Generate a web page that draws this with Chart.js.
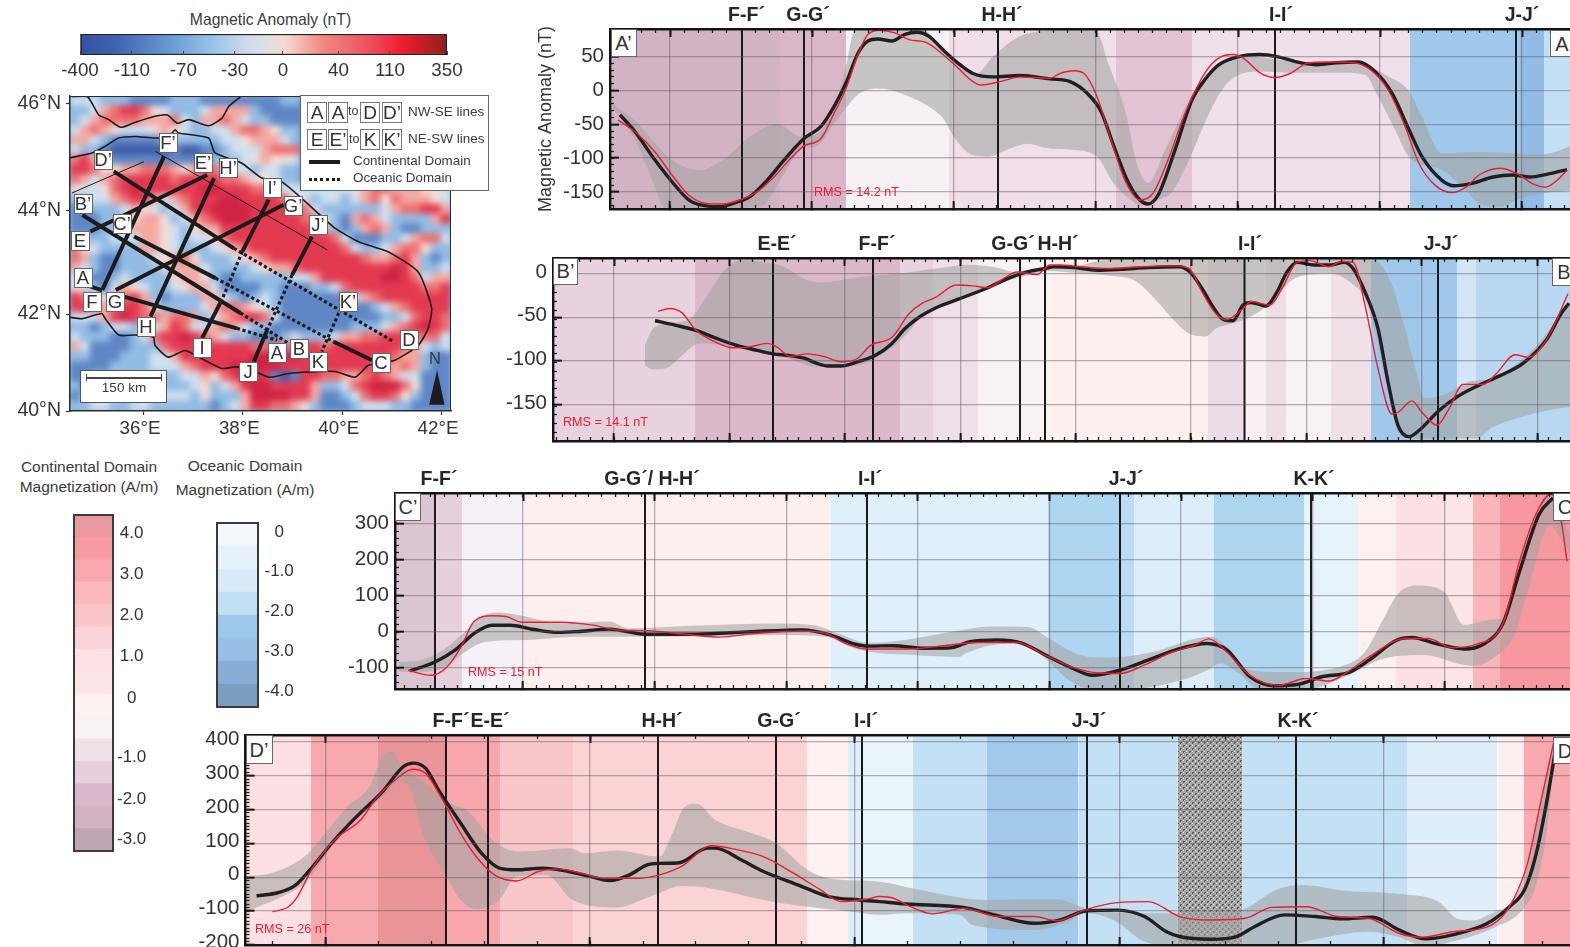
<!DOCTYPE html>
<html><head><meta charset="utf-8">
<style>
html,body{margin:0;padding:0;background:#fff}
#page{position:relative;width:1570px;height:947px;overflow:hidden;font-family:"Liberation Sans",Arial,sans-serif;color:#3a3a3a}
canvas{position:absolute;display:block}
.t{position:absolute;white-space:nowrap;line-height:1}
.b{position:absolute;background:#fff;border:1px solid #666;box-sizing:border-box;display:flex;align-items:center;justify-content:center;color:#333;line-height:1}
</style>
<script src="https://cdn.jsdelivr.net/npm/chart.js@4"></script>
</head><body><div id="page"></div>
<script>
/* ---------- anomaly profiles: [distance along profile, nT] ---------- */
const aObserved=[[10,-36],[25,-61],[45,-103],[62,-135],[79,-162],[93,-170],[110,-172],[123,-167],[140,-157],[157,-133],[174,-103],[194,-71],[211,-53],[224,-24],[236,11],[248,55],[258,73],[268,76],[282,73],[295,83],[307,86],[319,80],[333,60],[350,38],[363,25],[383,20],[410,22],[440,17],[460,13],[477,-4],[491,-31],[504,-83],[518,-135],[530,-162],[538,-168],[548,-155],[565,-88],[582,-14],[596,18],[609,38],[629,50],[650,53],[667,50],[690,41],[707,38],[727,41],[748,42],[765,28],[782,-4],[799,-58],[812,-98],[832,-133],[844,-141],[863,-137],[883,-128],[903,-125],[920,-128],[937,-124],[957,-117]];
const aModel=[[8,-44],[25,-61],[45,-91],[62,-125],[79,-155],[96,-167],[113,-168],[130,-162],[147,-150],[164,-128],[181,-100],[194,-82],[211,-71],[224,-34],[236,3],[248,53],[258,83],[270,89],[285,85],[299,75],[316,71],[329,58],[346,36],[363,13],[371,8],[390,13],[410,20],[440,18],[450,25],[464,29],[474,25],[487,-9],[501,-73],[515,-133],[530,-162],[543,-152],[558,-103],[575,-34],[596,28],[609,48],[623,53],[633,48],[650,26],[665,19],[680,25],[697,40],[717,42],[744,41],[761,30],[778,1],[795,-53],[809,-108],[825,-140],[842,-151],[856,-143],[869,-125],[890,-115],[907,-123],[924,-139],[935,-143],[947,-133],[957,-118]];
const aUpper=[[2,-19],[28,-49],[45,-78],[62,-103],[89,-118],[113,-103],[140,-68],[167,-50],[191,-68],[208,-63],[224,-24],[236,36],[243,85],[248,93],[280,95],[316,88],[333,60],[350,36],[365,23],[383,50],[407,78],[440,89],[464,90],[486,88],[498,41],[515,-29],[528,-113],[538,-137],[555,-88],[582,-6],[596,21],[609,38],[633,50],[667,46],[690,41],[734,43],[755,38],[778,21],[799,-1],[812,-39],[832,-93],[869,-91],[903,-93],[934,-94],[960,-83]];
const aLower=[[2,-24],[25,-73],[45,-143],[55,-178],[80,-190],[120,-182],[140,-172],[153,-170],[170,-133],[191,-88],[208,-81],[224,-49],[236,-26],[248,-6],[268,3],[282,0],[299,-9],[319,-24],[333,-41],[346,-73],[363,-96],[378,-98],[400,-86],[417,-79],[440,-86],[464,-88],[487,-98],[504,-138],[521,-162],[531,-170],[547,-162],[562,-150],[579,-103],[596,-44],[613,3],[629,23],[650,28],[687,26],[734,26],[755,23],[768,-9],[785,-58],[799,-98],[832,-118],[856,-148],[869,-167],[890,-172],[910,-160],[934,-152],[960,-148]];
const aCrossings=[132,194,388,665,906];
const aCrossLabels=["F-F´","G-G´","H-H´","I-I´","J-J´"];
const aLabelAt=[136.5,198,392,671,912];
const aBandEdges=[0,170,236,339,506,582,800,910,934,960];
const aBandColors=["#d1b3c4","#dab6c9","#f7f0f4","#f0dfe8","#e3c4d4","#f0e0e9","#a0c8ea","#92bce5","#c4e0f4"];

const bObserved=[[102,-54],[122,-59],[143,-65],[163,-74],[183,-82],[204,-88],[220,-92],[237,-94],[251,-97],[264,-103],[275,-106],[288,-106],[305,-101],[322,-94],[339,-80],[352,-63],[366,-50],[383,-39],[406,-29],[433,-17],[454,-6],[474,2],[492,6],[501,8],[521,7],[544,4],[568,5],[595,7],[626,8],[637,2],[649,-17],[661,-40],[671,-53],[680,-54],[690,-36],[698,-33],[713,-37],[724,-21],[734,2],[744,13],[761,10],[778,10],[791,13],[800,6],[812,-21],[825,-63],[835,-124],[845,-174],[856,-187],[866,-180],[886,-157],[906,-140],[926,-128],[947,-117],[970,-103],[994,-75],[1008,-46],[1016,-34]];
const bModel=[[105,-43],[117,-40],[129,-45],[143,-65],[160,-77],[180,-85],[197,-84],[214,-80],[224,-84],[237,-95],[254,-92],[271,-95],[288,-101],[302,-99],[318,-82],[339,-73],[356,-46],[369,-34],[383,-27],[403,-13],[420,-14],[435,-16],[450,-6],[464,2],[484,-1],[497,10],[507,10],[528,8],[555,6],[588,8],[622,9],[636,6],[649,-21],[663,-46],[673,-53],[690,-40],[698,-32],[717,-36],[729,-17],[744,13],[757,15],[776,8],[788,14],[800,13],[812,-36],[825,-109],[839,-161],[845,-159],[859,-146],[869,-159],[884,-174],[896,-155],[910,-127],[930,-127],[943,-115],[962,-93],[975,-96],[994,-75],[1015,-23]];
const bUpper=[[92,-82],[100,-63],[116,-57],[139,-50],[153,-27],[173,6],[187,15],[210,13],[231,8],[251,-6],[268,-10],[305,-4],[345,0],[383,6],[416,10],[440,8],[467,1],[497,7],[521,8],[548,15],[588,17],[656,17],[757,17],[808,17],[825,13],[839,-13],[852,-63],[866,-124],[871,-143],[893,-138],[916,-124],[940,-120],[964,-103],[987,-78],[1008,-46],[1017,-36]];
const bLower=[[92,-105],[100,-110],[116,-107],[129,-94],[146,-80],[170,-82],[204,-90],[231,-96],[264,-107],[288,-107],[312,-103],[335,-88],[356,-67],[366,-52],[406,-31],[433,-17],[454,-8],[474,-2],[497,3],[521,1],[555,-2],[582,-8],[602,-29],[622,-55],[636,-69],[653,-72],[663,-63],[680,-57],[693,-52],[713,-38],[730,-17],[744,-4],[778,0],[801,-13],[812,-29],[822,-67],[835,-136],[845,-182],[856,-189],[923,-189],[940,-176],[967,-165],[994,-157],[1017,-153]];
const bCrossings=[220,320,467,492,691.5,885];
const bCrossLabels=["E-E´","F-F´","G-G´","H-H´","I-I´","J-J´"];
const bLabelAt=[224,324,460,505,697,888];
const bBandEdges=[0,142,347,380,425,500,655,693,713,733,778,818,904,923,1017];
const bBandColors=["#e8d2de","#dbb8ca","#e8d2df","#efdfe8","#f8f2f5","#fcefee","#ecdce5","#f7f1f4","#eedfe7","#f8f2f5","#f0e0e8","#a0c8ea","#d4e6f6","#b8d8f2"];

const cObserved=[[15,-108],[40,-83],[60,-50],[79,-4],[97,19],[115,19],[139,7],[163,-1],[182,1],[214,8],[250,-6],[301,-6],[356,1],[407,6],[435,-8],[458,-32],[474,-39],[498,-38],[529,-45],[555,-44],[575,-27],[602,-22],[626,-30],[654,-69],[678,-101],[697,-120],[725,-106],[753,-78],[780,-50],[812,-32],[832,-50],[855,-124],[879,-149],[903,-145],[927,-124],[954,-112],[974,-78],[1002,-22],[1017,-15],[1041,-32],[1069,-47],[1087,-36],[1108,24],[1124,163],[1144,326],[1158,372]];
const cModel=[[13,-106],[36,-120],[52,-97],[66,-41],[79,29],[97,45],[111,43],[127,27],[166,27],[198,19],[222,6],[253,4],[289,-6],[324,-14],[360,-4],[407,3],[431,-4],[451,-32],[471,-47],[514,-47],[555,-36],[583,-29],[622,-29],[650,-64],[678,-98],[701,-113],[725,-115],[749,-92],[776,-57],[800,-36],[814,-19],[828,-45],[855,-120],[883,-148],[911,-129],[934,-136],[950,-115],[974,-69],[1010,-18],[1033,-18],[1057,-43],[1081,-34],[1108,24],[1124,191],[1140,321],[1156,382],[1166,312],[1172,196]];
const cUpper=[[4,-83],[25,-78],[48,-50],[68,-4],[87,43],[103,54],[123,47],[166,24],[214,29],[234,10],[301,18],[380,24],[419,19],[443,-4],[474,-30],[510,-22],[564,4],[595,15],[634,13],[654,-18],[685,-64],[713,-71],[753,-58],[816,-13],[832,-41],[855,-106],[891,-111],[950,-92],[970,-55],[986,24],[1002,103],[1021,129],[1049,112],[1069,20],[1093,33],[1112,47],[1128,200],[1156,382],[1162,368],[1175,266]];
const cLower=[[4,-110],[25,-110],[48,-101],[68,-59],[91,-27],[131,-22],[182,-13],[262,-13],[380,-8],[431,-13],[455,-41],[474,-55],[518,-64],[564,-69],[571,-59],[598,-36],[626,-32],[650,-73],[674,-134],[693,-157],[733,-159],[792,-129],[812,-106],[826,-87],[844,-115],[863,-157],[911,-160],[950,-124],[990,-73],[1029,-64],[1077,-94],[1100,-69],[1120,-4],[1136,145],[1148,266],[1155,298],[1166,256],[1175,219]];
const cCrossings=[40,250,472,725,916];
const cCrossLabels=["F-F´","G-G´/ H-H´","I-I´","J-J´","K-K´"];
const cLabelAt=[44,257,475,731,919];
const cBandEdges=[0,39,67,128,436,653,725,739,819,909,964,1001,1049,1078,1105,1175];
const cBandColors=["#dcc5d3","#e5d0dc","#f6f1f7","#fcefee","#e0f0fa","#aed6f1","#bcdcf3","#dceefa","#aed5f0","#e7f3fb","#fdf0f0","#fde0e3","#fde4e6","#f9b5ba","#f7989e"];

const dObserved=[[11,-55],[33,-45],[50,-23],[63,17],[89,110],[111,179],[137,253],[158,327],[168,337],[180,322],[193,258],[215,160],[236,71],[254,27],[271,22],[297,27],[323,17],[345,2],[364,-10],[384,7],[401,36],[414,41],[434,43],[462,86],[470,86],[496,51],[518,17],[553,-23],[583,-57],[614,-67],[634,-72],[661,-79],[718,-89],[749,-111],[789,-136],[815,-126],[841,-99],[872,-97],[899,-116],[921,-161],[934,-175],[965,-183],[991,-175],[1009,-146],[1039,-111],[1070,-116],[1097,-123],[1127,-118],[1154,-156],[1180,-182],[1207,-170],[1242,-136],[1264,-87],[1279,-37],[1290,61],[1301,219],[1310,376]];
const dModel=[[27,-102],[43,-87],[52,-57],[67,27],[89,110],[115,169],[132,238],[150,288],[167,319],[180,307],[197,229],[215,130],[232,56],[249,7],[271,-11],[293,17],[314,24],[336,12],[358,-3],[392,-3],[414,7],[436,32],[466,93],[492,81],[518,61],[548,12],[575,-37],[596,-72],[622,-64],[634,-57],[648,-62],[665,-87],[687,-108],[718,-92],[753,-116],[789,-116],[811,-128],[841,-95],[872,-75],[903,-72],[934,-116],[965,-126],[1000,-121],[1026,-89],[1061,-87],[1092,-116],[1123,-121],[1154,-166],[1176,-177],[1207,-161],[1246,-141],[1264,-87],[1282,41],[1295,219],[1308,396]];
const dUpper=[[0,2],[28,14],[59,61],[80,130],[102,209],[124,268],[137,357],[147,371],[156,327],[180,278],[202,224],[223,194],[249,105],[275,76],[323,86],[340,71],[371,79],[414,61],[427,130],[438,204],[451,217],[470,169],[501,135],[531,100],[562,22],[583,-3],[634,-13],[670,-35],[740,-67],[811,-65],[841,-92],[899,-106],[969,-106],[1000,-92],[1031,-37],[1057,-23],[1097,-39],[1163,-52],[1193,-72],[1211,-121],[1227,-128],[1246,-106],[1268,-67],[1282,32],[1295,219],[1310,411]];
const dLower=[[0,-101],[37,-57],[63,-8],[89,101],[141,248],[156,283],[167,248],[176,140],[197,22],[215,-67],[232,-94],[254,-67],[271,2],[301,7],[327,-67],[371,-89],[405,-57],[436,-26],[466,-33],[518,-67],[562,-87],[605,-101],[634,-111],[661,-106],[714,-111],[727,-141],[789,-156],[819,-136],[841,-106],[868,-126],[899,-190],[934,-205],[1031,-205],[1075,-180],[1123,-161],[1154,-177],[1180,-205],[1207,-190],[1251,-146],[1277,-97],[1290,-28],[1301,130],[1310,396]];
const dCrossings=[200.5,242.5,412.5,530.5,616.5,841.5,1050.5];
const dCrossLabels=["F-F´","E-E´","H-H´","G-G´","I-I´","J-J´","K-K´"];
const dLabelAt=[205.5,244.5,416.5,533.5,620.5,843.5,1052.5];
const dBandEdges=[0,65,132.5,200.5,254.5,327.5,561.5,602.5,616.5,667.5,741.5,833,932,997,1161.5,1252,1278,1325];
const dBandColors=["#fde0e3","#f8a9ae","#e99598","#f8a8ad","#f9c7ca","#fbd3d5","#fdf1f1","#e0eef9","#e9f4fb","#c4e0f4","#a2c8ea","#c4e0f4","STIPPLE","#c4e0f4","#e0eefa","#fdeff0","#f8aab0"];

/* ---------- colour scales ---------- */
const anomalyLabels=["-400","-110","-70","-30","0","40","110","350"];
const anomalyTickAt=[0,0.99,1.97,2.95,3.87,4.93,5.91,7];
const anomalyStops=[0,0.1,0.25,0.37,0.46,0.52,0.56,0.66,0.8,0.88,0.97,1];
const anomalyColors=["#3550a0","#3f64b0","#6b9cd6","#9cc5ea","#cfdcec","#e2e0e0","#f7d8d0","#f08a80","#ee4a5a","#ec1c2e","#a82020","#8c1c1c"];
const contCells=["#e99a9e","#f89aa0","#f9a8ae","#fbb9bd","#fbc6ca","#fcd3d7","#fde1e3","#fde6e9","#fdf1f1","#f8f2f5","#efdfe7","#e7cfdc","#d9b6c9","#d2b3c3","#bfa5b3"];
const contLabels=["4.0","3.0","2.0","1.0","0","-1.0","-2.0","-3.0"];
const contTickAt=[14.18,12.36,10.5,8.7,6.8,4.2,2.32,0.5];
const oceanCells=["#f3f8fc","#e6f2fa","#d8eaf8","#c2e0f3","#9dc8ea","#98bfe5","#88aed8","#7a9ebf"];
const oceanLabels=["0","-1.0","-2.0","-3.0","-4.0"];
const oceanTickAt=[7.6,5.88,4.14,2.41,0.7];

/* ---------- map ---------- */
const lonTicks=[36,38,40,42];
const lonLabels=["36°E","38°E","40°E","42°E"];
const latTicks=[40,41.89,43.91,46];
const latLabels=["40°N","42°N","44°N","46°N"];
const heatLevels=[-200,-90,-50,-25,0,25,60,120,220];
const heatColors=["#3f5ca8","#5f87c6","#93bce4","#cfe0ef","#f3dcd6","#f3a9a2","#ec6f70","#e33a52","#cf2445"];
const heatRows=[
"33322211112221111111122","22356776432223555521111","23566665556325565322111","35654333454322335665422","55321111122222233455532","32210000001001123335666","67521111111111222345443","77644556665456633323322","65356777776777766544322",
"43346787777778877766533333334566555443","22335677535677788777764323323564655543","11222354323577888877776632222223566775","11122245542356788877777663215653222257","11122355543245577777777765212565211222","22223335543233467777777777631112235663","64322225543222345677777777763223566422",
"65211222345642223456777777777655675212","53211222235553222234556777777777875223","32112322224554211222223357777778876355","43213543223455311112211122367777777667","76435675212225532123211111113567777777","77756776422223566543211111111123567777","33357876656652356776311111111112236776","22123322357633565322111111112223567876",
"32221123677876532211123222355667776663","53111122267777777766666776777777765323","22111222335777777788888777777777655211","11112222333567778888877777777766565211","11222222222335467887101776655676533111","21222222222234235788777752236788864111","12333223333324222588887751123677642111","22332233222222123577665421112333221111"];
const coastSouth=[[34.5,44.93],[34.96,45.03],[35.23,45.16],[35.5,45.32],[35.83,45.35],[36.23,45.32],[36.5,45.35],[36.64,45.48],[36.7,45.42],[37.31,45.32],[37.44,45.03],[37.98,44.83],[38.38,44.54],[38.78,44.47],[39.59,43.79],[39.86,43.56],[40.33,43.3],[40.93,43.1],[41.53,42.71],[41.8,42],[41.73,41.61],[41.53,41.28],[41.06,40.99],[40.53,40.89],[40.26,40.66],[39.86,40.77],[39.32,40.76],[38.92,40.73],[38.52,40.66],[38.11,40.83],[37.84,40.86],[37.58,40.83],[37.17,41.02],[36.84,41.18],[36.5,41.05],[36.23,41.28],[36.2,41.44],[35.83,41.48],[35.5,41.48],[35.23,41.8],[35.16,41.9],[34.76,41.8],[34.5,41.83]];
const coastNorth=[[34.56,46.13],[34.87,46.13],[35.1,45.77],[35.3,45.68],[35.54,45.53],[35.81,45.62],[36.21,45.74],[36.48,45.77],[36.68,45.61],[36.91,45.68],[37.31,45.56],[37.58,45.71],[37.72,45.94],[37.95,46.12]];
const solidLines=[[[35.4,44.67],[37.82,43.17]],[[35.81,43.4],[37.45,42.59]],[[39.83,41.35],[40.6,40.99]],[[34.77,43.82],[37.95,41.91]],[[34.93,42.43],[35.17,42.35]],[[35.6,42.23],[37.88,41.61]],[[36.41,44.96],[35.17,42.36]],[[34.93,43.5],[37.28,44.6]],[[35.44,42.36],[38.82,44.02]],[[37.42,44.54],[36.14,41.84]],[[38.52,44.12],[37.99,43.11]],[[37.58,42.17],[37.18,41.42]],[[39.39,43.4],[38.99,42.65]],[[38.49,41.58],[38.22,40.96]]];
const dottedLines=[[[37.82,43.17],[41.04,41.35]],[[37.45,42.59],[39.83,41.35]],[[37.95,41.91],[38.92,41.32]],[[37.88,41.61],[38.69,41.38]],[[37.99,43.11],[37.58,42.17]],[[38.99,42.65],[38.49,41.58]],[[39.93,41.91],[39.59,41.16]]];
const thinLines=[[[34.56,44.25],[36.01,44.86]],[[36.24,45.06],[39.7,43.14]]];
const northArrow=[[41.91,40.8],[41.75,40.12],[42.06,40.12],[41.91,40.8]];

/* ---------- helpers ---------- */
Chart.defaults.font.family='"Liberation Sans",Arial,sans-serif';
Chart.defaults.color='#333';
Chart.defaults.animation=false;
const page=document.getElementById('page');
function mkCanvas(l,t,w,h){const c=document.createElement('canvas');c.width=w;c.height=h;c.style.left=l+'px';c.style.top=t+'px';c.style.width=w+'px';c.style.height=h+'px';page.appendChild(c);return c;}
function txt(s,l,cy,size,opt){opt=opt||{};const d=document.createElement('div');d.className='t';d.textContent=s;d.style.fontSize=size+'px';d.style.top=(cy-size/2)+'px';if(opt.center){d.style.left=l+'px';d.style.transform='translateX(-50%)';}else d.style.left=l+'px';if(opt.color)d.style.color=opt.color;page.appendChild(d);return d;}
function box(s,cx,cy,w,h,size,bc){const d=document.createElement('div');d.className='b';d.textContent=s;d.style.cssText+=`left:${cx-w/2}px;top:${cy-h/2}px;width:${w}px;height:${h}px;font-size:${size}px;`+(bc?`border-color:${bc};`:'');page.appendChild(d);return d;}
function rect(l,t,w,h,css){const d=document.createElement('div');d.style.cssText=`position:absolute;left:${l}px;top:${t}px;width:${w}px;height:${h}px;box-sizing:border-box;`+css;page.appendChild(d);return d;}
const pts=a=>a.map(p=>({x:p[0],y:p[1]}));
function stipple(){const c=document.createElement('canvas');c.width=6;c.height=6;const g=c.getContext('2d');g.fillStyle='#a6a6a6';g.fillRect(0,0,6,6);g.fillStyle='#5a5a5a';g.fillRect(0,0,2,1);g.fillRect(0,1,1,1);g.fillRect(3,3,2,1);g.fillRect(3,4,1,1);g.fillStyle='#f2f2f2';g.fillRect(3,0,1,1);g.fillRect(0,3,1,1);return g.createPattern(c,'repeat');}
const GRID='rgba(95,85,95,0.45)';
const INK='#141414';
/* exact axis size, without the label overflow padding the layout would add to the plot area */
function fixSize(s,prop,v){s[prop]=v;s.paddingTop=s.paddingBottom=s.paddingLeft=s.paddingRight=0;}

function profile(cfg){
 const {left,top,width,height,axisW,topH,botH,yMin,yMax,yMajor,yMinor,gridStart,gridStep,tickStep,observed,model,upper,lower,crossings,crossLabels,labelAt,edges,colors,yTitle,labelUp}=cfg;
 const cv=mkCanvas(left-axisW,top-topH,axisW+width,topH+height+botH);
 const ds=[];
 ds.push({data:pts(model),borderColor:'#ed1c2e',borderWidth:1.4,pointRadius:0,cubicInterpolationMode:'monotone',order:1,fill:false});
 ds.push({data:pts(observed),borderColor:'#231f20',borderWidth:3.4,pointRadius:0,cubicInterpolationMode:'monotone',order:2,fill:false});
 crossings.forEach(v=>ds.push({data:[{x:v,y:yMin},{x:v,y:yMax}],borderColor:'#1a1a1a',borderWidth:2,pointRadius:0,order:3,fill:false}));
 ds.push({data:pts(upper),borderWidth:0,pointRadius:0,cubicInterpolationMode:'monotone',fill:'+1',backgroundColor:'rgba(164,164,162,0.58)',order:50});
 ds.push({data:pts(lower),borderWidth:0,pointRadius:0,cubicInterpolationMode:'monotone',fill:false,order:51});
 colors.forEach((c,i)=>ds.push({data:[{x:edges[i],y:yMax},{x:edges[i+1],y:yMax}],borderWidth:0,pointRadius:0,fill:'start',backgroundColor:c==='STIPPLE'?stipple():c,order:100+i}));
 const xr={type:'linear',min:0,max:width,axis:'x'};
 const fixH=h=>(s=>fixSize(s,'height',h));
 const setTicks=f=>(s=>{s.ticks=f();});
 const seq=(start,step)=>()=>{const r=[];for(let v=start;v<=width;v+=step)r.push({value:v});return r;};
 const minorStart=gridStart%tickStep;
 new Chart(cv,{type:'line',data:{datasets:ds},options:{responsive:false,animation:false,
  layout:{autoPadding:false,padding:0},
  plugins:{legend:{display:false},tooltip:{enabled:false}},
  scales:{
   x:{...xr,position:'bottom',weight:1,afterFit:fixH(botH),afterBuildTicks:setTicks(seq(gridStart,gridStep)),ticks:{display:false},
      grid:{z:1,color:GRID,lineWidth:1.3,tickColor:INK,tickWidth:2,tickLength:-8},border:{z:2,width:2.4,color:INK}},
   xMinorB:{...xr,position:'bottom',weight:0,afterFit:fixH(0),afterBuildTicks:setTicks(seq(minorStart,tickStep)),ticks:{display:false},
      grid:{z:1,drawOnChartArea:false,tickColor:'#222',tickWidth:1.3,tickLength:-4},border:{display:false}},
   xTop:{...xr,position:'top',weight:1,afterFit:fixH(topH),afterBuildTicks:setTicks(()=>labelAt.map(v=>({value:v}))),
      ticks:{callback:(v,i)=>crossLabels[i],autoSkip:false,maxRotation:0,minRotation:0,padding:2,color:'#262626',font:{size:19.5,weight:'bold'}},
      grid:{display:true,drawOnChartArea:false,drawTicks:false},border:{z:2,width:2.4,color:INK}},
   xMajT:{...xr,position:'top',weight:0,afterFit:fixH(0),afterBuildTicks:setTicks(seq(gridStart,gridStep)),ticks:{display:false},
      grid:{z:1,drawOnChartArea:false,tickColor:INK,tickWidth:2,tickLength:-8},border:{display:false}},
   xMinT:{...xr,position:'top',weight:-1,afterFit:fixH(0),afterBuildTicks:setTicks(seq(minorStart,tickStep)),ticks:{display:false},
      grid:{z:1,drawOnChartArea:false,tickColor:'#222',tickWidth:1.3,tickLength:-4},border:{display:false}},
   y:{type:'linear',axis:'y',position:'left',weight:1,min:yMin,max:yMax,afterFit:s=>fixSize(s,'width',axisW),
      title:yTitle?{display:true,text:yTitle,font:{size:18},color:'#333',padding:0}:{display:false},
      ticks:{stepSize:yMajor,includeBounds:false,callback:v=>String(v),padding:15,labelOffset:-(labelUp||0),color:'#333',font:{size:20.5}},
      grid:{z:1,color:GRID,lineWidth:1.3,tickColor:INK,tickWidth:2,tickLength:-9},border:{z:2,width:2.4,color:INK}},
   yMinor:{type:'linear',axis:'y',position:'left',weight:0,min:yMin,max:yMax,afterFit:s=>fixSize(s,'width',0),
      ticks:{stepSize:yMinor,includeBounds:false,display:false},
      grid:{z:1,drawOnChartArea:false,tickColor:'#222',tickWidth:1.3,tickLength:-4},border:{display:false}}
  }}});
}

/* ---------- profile panels ---------- */
profile({left:610,top:29,width:960,height:180,axisW:75,topH:29,botH:3,yMin:-175.3,yMax:90.8,yMajor:50,yMinor:10,gridStart:60,gridStep:142,tickStep:14.2,observed:aObserved,model:aModel,upper:aUpper,lower:aLower,crossings:aCrossings,crossLabels:aCrossLabels,labelAt:aLabelAt,edges:aBandEdges,colors:aBandColors,yTitle:'Magnetic Anomaly (nT)',labelUp:0});
profile({left:553,top:258,width:1017,height:183,axisW:53,topH:29,botH:3,yMin:-192,yMax:18,yMajor:50,yMinor:10,gridStart:61,gridStep:115.4,tickStep:11.54,observed:bObserved,model:bModel,upper:bUpper,lower:bLower,crossings:bCrossings,crossLabels:bCrossLabels,labelAt:bLabelAt,edges:bBandEdges,colors:bBandColors,labelUp:1.5});
profile({left:395,top:493,width:1175,height:196,axisW:55,topH:29,botH:3,yMin:-158,yMax:385.6,yMajor:100,yMinor:20,gridStart:128,gridStep:131.6,tickStep:13.16,observed:cObserved,model:cModel,upper:cUpper,lower:cLower,crossings:cCrossings,crossLabels:cCrossLabels,labelAt:cLabelAt,edges:cBandEdges,colors:cBandColors,labelUp:1});
profile({left:245.5,top:735,width:1324.5,height:210,axisW:55.5,topH:29,botH:2,yMin:-200,yMax:420,yMajor:100,yMinor:10,gridStart:80,gridStep:264.6,tickStep:52.92,observed:dObserved,model:dModel,upper:dUpper,lower:dLower,crossings:dCrossings,crossLabels:dCrossLabels,labelAt:dLabelAt,edges:dBandEdges,colors:dBandColors,labelUp:2.5});

[["A’",623.5,43,26,27.5],["B’",565.5,271,25,27],["C’",408,507,26,28],["D’",259,749.5,27,29],["A",1562,43.5,24,27],["B",1564,272,24,28],["C",1565,507,24,28],["D",1565,750.5,24,27]].forEach(b=>box(b[0],b[1],b[2],b[3],b[4],20));
txt('RMS = 14.2 nT',814,192.5,12.6,{color:'#ed1c2e'});
txt('RMS = 14.1 nT',563,422,12.6,{color:'#ed1c2e'});
txt('RMS = 15 nT',468,672,12.6,{color:'#ed1c2e'});
txt('RMS = 26 nT',255,929,12.6,{color:'#ed1c2e'});

/* ---------- top colour bar ---------- */
txt('Magnetic Anomaly (nT)',270.5,20,15.7,{center:true});
new Chart(mkCanvas(50,30,430,55),{type:'bar',data:{labels:['anomaly'],datasets:[{data:[[0,7]],borderWidth:1.5,borderColor:'#222',borderSkipped:false,barPercentage:1,categoryPercentage:1,
 backgroundColor:c=>{const a=c.chart.chartArea;if(!a)return anomalyColors[0];const g=c.chart.ctx.createLinearGradient(a.left,0,a.right,0);anomalyStops.forEach((s,i)=>g.addColorStop(s,anomalyColors[i]));return g;}}]},
 options:{indexAxis:'y',responsive:false,animation:false,layout:{autoPadding:false,padding:{left:30,right:33,top:4,bottom:0}},plugins:{legend:{display:false},tooltip:{enabled:false}},
 scales:{y:{display:false},x:{type:'linear',min:0,max:7,afterFit:s=>fixSize(s,'height',30),afterBuildTicks:s=>{s.ticks=anomalyTickAt.map(v=>({value:v}));},
  ticks:{callback:(v,i)=>anomalyLabels[i],autoSkip:false,maxRotation:0,padding:9,color:'#333',font:{size:18.8}},
  grid:{drawOnChartArea:false,z:2,tickColor:'#445',tickWidth:1,tickLength:-4},border:{display:false}}}}});

/* ---------- domain colour bars ---------- */
function stepBar(left,top,w,h,cells,labels,tickAt,pad){
 const cv=mkCanvas(left,top,Math.ceil(w)+50,h);
 const ds=cells.slice().reverse().map(c=>({data:[1],backgroundColor:c,borderWidth:0,barPercentage:1,categoryPercentage:1,stack:'s'}));
 new Chart(cv,{type:'bar',data:{labels:['m'],datasets:ds},options:{responsive:false,animation:false,layout:{autoPadding:false,padding:0},plugins:{legend:{display:false},tooltip:{enabled:false}},
  scales:{x:{display:false,stacked:true},y:{type:'linear',position:'right',stacked:true,min:0,max:cells.length,afterFit:s=>fixSize(s,'width',50),afterBuildTicks:s=>{s.ticks=tickAt.map(v=>({value:v}));},
   ticks:{callback:(v,i)=>labels[i],autoSkip:false,crossAlign:'center',padding:pad,color:'#333',font:{size:17}},grid:{display:false,drawTicks:false},border:{display:false}}}}});
 rect(left-1,top-1,w+2,h+2,'border:2px solid #3a3a3a;');
}
stepBar(74,515,39,336,contCells,contLabels,contTickAt,4);
stepBar(217,523,41,184,oceanCells,oceanLabels,oceanTickAt,6.5);
txt('Continental Domain',89,467,15.5,{center:true});
txt('Magnetization (A/m)',89,487,15.5,{center:true});
txt('Oceanic Domain',245,466,15.5,{center:true});
txt('Magnetization (A/m)',245,490,15.5,{center:true});

/* ---------- map: anomaly field + overlay ---------- */
const lonMin=34.52,lonMax=42.19,latMin=40,latMax=46.14;
const holder=rect(70,96,381,315,'overflow:hidden;background:#8fb3dd;');
const hc=document.createElement('canvas');hc.width=381;hc.height=315;hc.style.cssText='position:absolute;left:0;top:0;filter:blur(3.2px);';holder.appendChild(hc);
const heatPts=[],heatCols=[];
heatRows.forEach((row,r)=>{const full=row.padEnd(38,'1');for(let c=0;c<38;c++){const lv=+full[c];
 heatPts.push({x:lonMin+(c+0.5)*(lonMax-lonMin)/38,y:latMax-(r+0.5)*(latMax-latMin)/heatRows.length,v:heatLevels[lv]});heatCols.push(heatColors[lv]);}});
new Chart(hc,{type:'scatter',data:{datasets:[{data:heatPts,pointStyle:'rect',pointRadius:7.7,pointBorderWidth:0,pointBackgroundColor:heatCols,clip:false}]},
 options:{responsive:false,animation:false,layout:{autoPadding:false,padding:0},plugins:{legend:{display:false},tooltip:{enabled:false}},scales:{x:{type:'linear',display:false,min:lonMin,max:lonMax},y:{type:'linear',display:false,min:latMin,max:latMax}}}});

const mapDs=[];
mapDs.push({data:pts(northArrow),borderWidth:0,pointRadius:0,fill:'shape',backgroundColor:'#1d1d1d',order:1});
solidLines.forEach(l=>mapDs.push({data:pts(l),borderColor:'#1c1c1c',borderWidth:4,pointRadius:0,fill:false,order:2}));
dottedLines.forEach(l=>mapDs.push({data:pts(l),borderColor:'#1c1c1c',borderWidth:3.2,borderDash:[3.2,2.6],pointRadius:0,fill:false,order:2}));
thinLines.forEach(l=>mapDs.push({data:pts(l),borderColor:'#1c1c1c',borderWidth:1,pointRadius:0,fill:false,order:3}));
[coastSouth,coastNorth].forEach(l=>mapDs.push({data:pts(l),borderColor:'#1c1c1c',borderWidth:1.6,pointRadius:0,tension:0.2,fill:false,order:4}));
new Chart(mkCanvas(10,90,471,350),{type:'scatter',data:{datasets:mapDs.map(d=>({...d,showLine:true}))},options:{responsive:false,animation:false,
 layout:{autoPadding:false,padding:{top:6,right:30}},plugins:{legend:{display:false},tooltip:{enabled:false}},
 scales:{x:{type:'linear',min:lonMin,max:lonMax,afterFit:s=>fixSize(s,'height',29),afterBuildTicks:s=>{s.ticks=lonTicks.map(v=>({value:v}));},
   ticks:{callback:(v,i)=>lonLabels[i],autoSkip:false,maxRotation:0,padding:3,labelOffset:-3.5,color:'#333',font:{size:18.8}},grid:{drawOnChartArea:false,tickColor:'#333',tickLength:4,tickWidth:1.2},border:{color:'#333',width:1.5}},
  y:{type:'linear',min:latMin,max:latMax,afterFit:s=>fixSize(s,'width',60),afterBuildTicks:s=>{s.ticks=latTicks.map(v=>({value:v}));},
   ticks:{callback:(v,i)=>latLabels[i],autoSkip:false,padding:5,color:'#333',font:{size:19.5}},grid:{drawOnChartArea:false,tickColor:'#333',tickLength:4,tickWidth:1.2},border:{color:'#333',width:1.5}}}}});
rect(69,96,382,315,'border:1.5px solid #2a2a2a;');

[["F’",168,143],["D’",103,160],["E’",203,163],["H’",228,168],["I’",272,188],["G’",293,206],["J’",318,225],["B’",83,204],["C’",122,224],["E",80,241],["A",83,278],["F",92,302],["G",115,302],["H",146,327],["I",202,348],["A",277,353],["B",299,349],["K",318,362],["K’",348,302],["D",409,340],["C",381,363],["J",248,372]].forEach(b=>box(b[0],b[1],b[2],19,20,18.5));

/* map legend */
rect(300,95,189,96,'background:#fff;border:1.5px solid #666;');
[["A",317,112],["A",338,112],["D",370,112],["D’",392,112],["E",317,139],["E’",338,139],["K",370,139],["K’",392,139]].forEach(b=>box(b[0],b[1],b[2],20,21,19,'#777'));
txt('to',348,111,12.5);txt('to',349,139,12.5);
txt('NW-SE lines',408,111.5,13.5);
txt('NE-SW lines',408,138.5,13.5);
rect(309,159.5,31,4,'background:#1c1c1c;');
rect(309,177.5,31,0,'border-top:3px dotted #1c1c1c;');
txt('Continental Domain',353,161,13.4);
txt('Oceanic Domain',353,178,13.4);

/* scale bar & north */
rect(80,370,87,33,'background:#fff;border:1px solid #555;');
rect(86,377,76,1.5,'background:#444;');
rect(86,374,1,7,'background:#444;');
rect(161,374,1,7,'background:#444;');
txt('150 km',124,388,13.5,{center:true});
txt('N',435,358,16.5,{center:true});
</script></body></html>
